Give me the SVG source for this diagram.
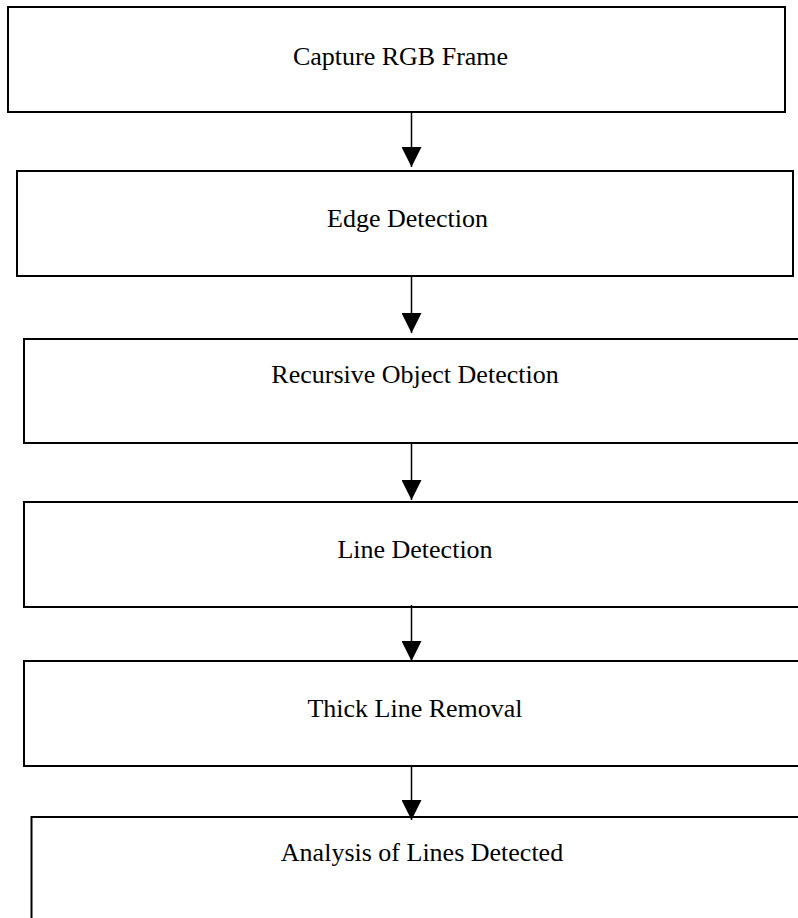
<svg xmlns="http://www.w3.org/2000/svg" width="798" height="918" viewBox="0 0 798 918">
<style>
.box{fill:#fff;stroke:#000;stroke-width:2}
.lbl{font-family:"Liberation Serif","Times New Roman",serif;font-size:26px;fill:#000;text-anchor:middle}
.conn{stroke:#000;stroke-width:1.5;fill:none}
</style>
<defs>
<marker id="ah" markerUnits="userSpaceOnUse" markerWidth="20" markerHeight="20" refX="20" refY="10" orient="auto">
<path d="M0,0 L20,10 L0,20 Z" fill="#000"/>
</marker>
</defs>
<rect width="798" height="918" fill="#fff"/>
<g id="n1"><rect class="box" x="8" y="7" width="777" height="105"/><text class="lbl" x="400.5" y="65">Capture RGB Frame</text></g>
<g id="n2"><rect class="box" x="17" y="171" width="776" height="105"/><text class="lbl" x="407.5" y="227">Edge Detection</text></g>
<g id="n3"><rect class="box" x="24" y="339" width="790" height="104"/><text class="lbl" x="415" y="383">Recursive Object Detection</text></g>
<g id="n4"><rect class="box" x="24" y="502" width="790" height="105"/><text class="lbl" x="415" y="558">Line Detection</text></g>
<g id="n5"><rect class="box" x="24" y="661" width="790" height="105"/><text class="lbl" x="415" y="717">Thick Line Removal</text></g>
<g id="n6"><rect class="box" x="31.5" y="817" width="790" height="120"/><text class="lbl" x="422" y="861">Analysis of Lines Detected</text></g>
<g id="connectors">
<line class="conn" x1="411.5" y1="112" x2="411.5" y2="167" marker-end="url(#ah)"/>
<line class="conn" x1="411.5" y1="276" x2="411.5" y2="333" marker-end="url(#ah)"/>
<line class="conn" x1="411.5" y1="443" x2="411.5" y2="500" marker-end="url(#ah)"/>
<line class="conn" x1="411.5" y1="605" x2="411.5" y2="661" marker-end="url(#ah)"/>
<line class="conn" x1="411.5" y1="766" x2="411.5" y2="820" marker-end="url(#ah)"/>
</g>
</svg>
